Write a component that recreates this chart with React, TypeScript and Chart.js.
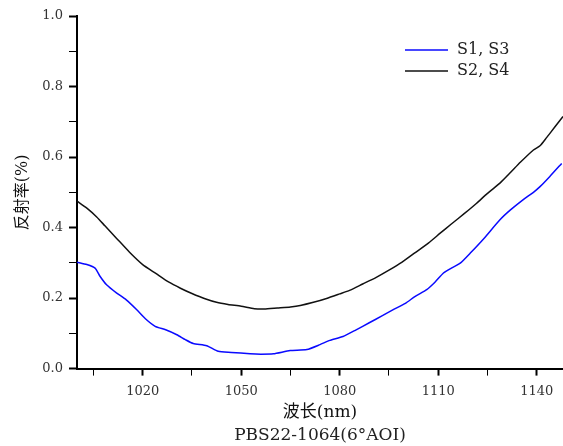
import React, { useEffect, useRef } from "react";
import { Chart, registerables } from "chart.js";

Chart.register(...registerables);

// S1, S3 (blue)
const blueX = [1000, 1003, 1005.5, 1007, 1009, 1012, 1015, 1018.2, 1021, 1023.8, 1027, 1030.4, 1033, 1035.4, 1039.5, 1043, 1047, 1052.7, 1056, 1059.8, 1064.9, 1070, 1074, 1077, 1081, 1085, 1089, 1093, 1096.3, 1100, 1103, 1106.5, 1109, 1111.6, 1114, 1116.7, 1120, 1124, 1128.8, 1132, 1136, 1139, 1141, 1144, 1147.6];
const blueY = [0.302, 0.295, 0.285, 0.262, 0.238, 0.215, 0.195, 0.167, 0.14, 0.12, 0.11, 0.096, 0.082, 0.071, 0.065, 0.049, 0.046, 0.042, 0.041, 0.042, 0.051, 0.054, 0.068, 0.08, 0.091, 0.11, 0.13, 0.15, 0.167, 0.185, 0.205, 0.224, 0.245, 0.271, 0.285, 0.299, 0.33, 0.37, 0.422, 0.45, 0.48, 0.5, 0.516, 0.545, 0.582];

// S2, S4 (black)
const blackX = [1000, 1003, 1006, 1008.5, 1012, 1016, 1020, 1024, 1028, 1031.5, 1035, 1039, 1042.5, 1046, 1050, 1054, 1057, 1061, 1065, 1068, 1072, 1076, 1080, 1083, 1087, 1091, 1095, 1099, 1103, 1107, 1110.6, 1114, 1118, 1121.7, 1125, 1128.8, 1132, 1135, 1139, 1141, 1143, 1145.5, 1148];
const blackY = [0.475, 0.455, 0.43, 0.405, 0.37, 0.33, 0.295, 0.27, 0.245, 0.228, 0.213, 0.198, 0.188, 0.182, 0.177, 0.17, 0.169, 0.172, 0.175, 0.179, 0.188, 0.199, 0.212, 0.222, 0.24, 0.258, 0.279, 0.302, 0.329, 0.356, 0.384, 0.41, 0.44, 0.469, 0.497, 0.526, 0.556, 0.585, 0.62, 0.632, 0.655, 0.685, 0.715];

const seriesLabels = ["S1, S3", "S2, S4"];
const xTicks = [1005, 1020, 1035, 1050, 1065, 1080, 1095, 1110, 1125, 1140];
const xMajor = [1020, 1050, 1080, 1110, 1140];
const yTicks = [0, 0.1, 0.2, 0.3, 0.4, 0.5, 0.6, 0.7, 0.8, 0.9, 1.0];
const yMajor = [0, 0.2, 0.4, 0.6, 0.8, 1.0];

const xTitle = "波长(nm)";
const yTitle = "反射率(%)";
const subTitle = "PBS22-1064(6°AOI)";

const SERIF = '"DejaVu Serif", "Noto Sans CJK SC", serif';

const insideLegend = {
  id: "insideLegend",
  afterDatasetsDraw(chart: any) {
    const { ctx, chartArea } = chart;
    ctx.save();
    chart.data.datasets.forEach((ds: any, i: number) => {
      const y = chartArea.top + 34 + i * 21;
      const x0 = chartArea.left + 328;
      ctx.strokeStyle = ds.borderColor;
      ctx.lineWidth = 1.5;
      ctx.beginPath();
      ctx.moveTo(x0, y);
      ctx.lineTo(x0 + 43, y);
      ctx.stroke();
      ctx.fillStyle = "#222";
      ctx.font = '16px "DejaVu Serif"';
      ctx.textBaseline = "middle";
      ctx.textAlign = "left";
      ctx.fillText(ds.label, x0 + 52, y);
    });
    ctx.restore();
  },
};

const isMajor = (v: number, list: number[]) => list.some((m) => Math.abs(m - v) < 1e-6);

export default function App() {
  const ref = useRef<HTMLCanvasElement>(null);
  useEffect(() => {
    if (!ref.current) return;
    const chart = new Chart(ref.current, {
      type: "line",
      data: {
        datasets: [
          {
            label: seriesLabels[0],
            data: blueX.map((x, i) => ({ x, y: blueY[i] })),
            borderColor: "#0a0aff",
            borderWidth: 1.5,
            pointRadius: 0,
            tension: 0.2,
          },
          {
            label: seriesLabels[1],
            data: blackX.map((x, i) => ({ x, y: blackY[i] })),
            borderColor: "#111111",
            borderWidth: 1.5,
            pointRadius: 0,
            tension: 0.2,
          },
        ],
      },
      plugins: [insideLegend],
      options: {
        responsive: false,
        animation: false,
        devicePixelRatio: 1,
        layout: { padding: { top: 16, left: 0, right: 0, bottom: 0 } },
        plugins: {
          legend: { display: false },
          tooltip: { enabled: false },
          title: {
            display: true,
            position: "bottom",
            fullSize: false,
            text: subTitle,
            color: "#222",
            font: { family: SERIF, size: 17, weight: "normal" },
            padding: { top: 0, bottom: 0 },
          },
        },
        scales: {
          x: {
            type: "linear",
            min: 1000,
            max: 1148,
            afterBuildTicks: (scale: any) => {
              scale.ticks = xTicks.map((v) => ({ value: v }));
            },
            afterFit: (scale: any) => {
              scale.height = 57;
            },
            ticks: {
              autoSkip: false,
              maxRotation: 0,
              padding: 8,
              color: "#333",
              font: { family: SERIF, size: 13 },
              callback: (v: any) => (isMajor(Number(v), xMajor) ? String(v) : ""),
            },
            grid: {
              drawOnChartArea: false,
              drawTicks: true,
              tickLength: 7,
              tickColor: "#000",
              tickWidth: (c: any) => (c.tick && isMajor(c.tick.value, xMajor) ? 2 : 1),
            },
            border: { display: true, color: "#000", width: 2 },
            title: {
              display: true,
              text: xTitle,
              color: "#111",
              font: { family: SERIF, size: 17 },
              padding: { top: 0, bottom: 3 },
            },
          },
          y: {
            type: "linear",
            min: 0,
            max: 1,
            afterBuildTicks: (scale: any) => {
              scale.ticks = yTicks.map((v) => ({ value: v }));
            },
            afterFit: (scale: any) => {
              scale.width = 77;
            },
            ticks: {
              autoSkip: false,
              padding: 6,
              color: "#333",
              font: { family: SERIF, size: 13 },
              callback: (v: any) => (isMajor(Number(v), yMajor) ? Number(v).toFixed(1) : ""),
            },
            grid: {
              drawOnChartArea: false,
              drawTicks: true,
              tickLength: 8,
              tickColor: "#000",
              tickWidth: (c: any) => (c.tick && isMajor(c.tick.value, yMajor) ? 2 : 1),
            },
            border: { display: true, color: "#000", width: 2 },
            title: {
              display: true,
              text: yTitle,
              color: "#111",
              font: { family: SERIF, size: 16 },
              padding: { top: 13, bottom: 0 },
            },
          },
        },
      },
    } as any);
    return () => chart.destroy();
  }, []);
  return (
    <div style={{ position: "absolute", left: 0, top: 0, width: 563, height: 446, background: "#fff" }}>
      <canvas ref={ref} width={563} height={446} style={{ display: "block" }} />
    </div>
  );
}
